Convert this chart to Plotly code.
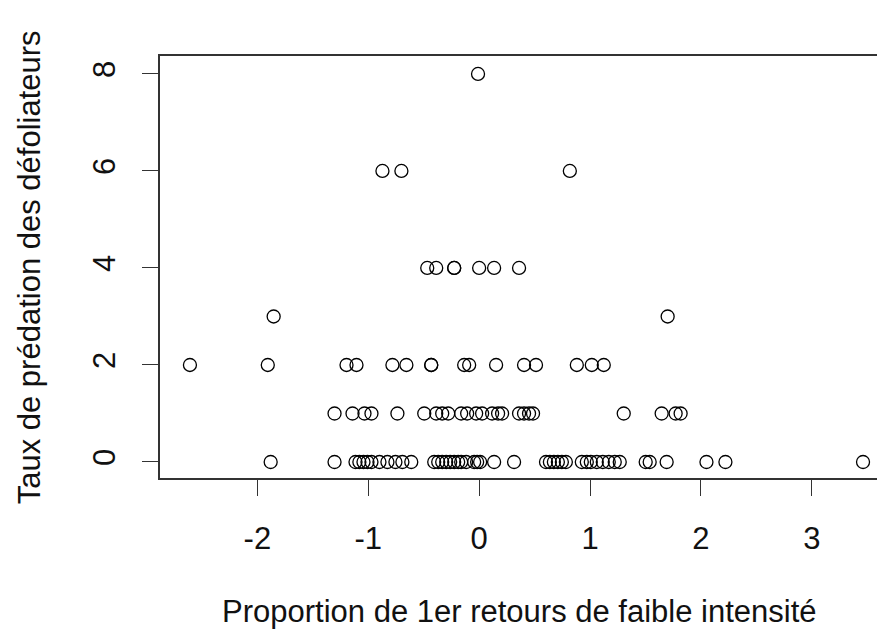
import plotly.graph_objects as go

# x values for each y level (Taux de prédation)
x_y0 = [-1.88, -1.304, -1.115, -1.08, -1.043, -1.007, -0.971, -0.899, -0.827, -0.755,
        -0.692, -0.612, -0.405, -0.369, -0.333, -0.297, -0.261, -0.225, -0.189, -0.162,
        -0.117, -0.045, -0.018, 0.009, 0.135, 0.315, 0.603, 0.638, 0.674, 0.710,
        0.746, 0.782, 0.926, 0.971, 1.007, 1.061, 1.115, 1.169, 1.223, 1.268,
        1.502, 1.538, 1.691, 2.050, 2.221, 3.462]
x_y1 = [-1.304, -1.142, -1.034, -0.971, -0.737, -0.495, -0.387, -0.333, -0.279, -0.162,
        -0.108, -0.027, 0.027, 0.117, 0.171, 0.207, 0.360, 0.405, 0.450, 0.486,
        1.304, 1.646, 1.772, 1.817]
x_y2 = [-2.608, -1.906, -1.196, -1.106, -0.782, -0.656, -0.432, -0.432, -0.135, -0.090,
        0.153, 0.405, 0.513, 0.881, 1.016, 1.124]
x_y3 = [-1.853, 1.700]
x_y4 = [-0.468, -0.387, -0.225, -0.225, 0.0, 0.135, 0.360]
x_y6 = [-0.872, -0.701, 0.818]
x_y8 = [-0.01]

levels = [(0, x_y0), (1, x_y1), (2, x_y2), (3, x_y3), (4, x_y4), (6, x_y6), (8, x_y8)]
xs, ys = [], []
for yv, xl in levels:
    xs += xl
    ys += [yv] * len(xl)

x_ticks = [-2, -1, 0, 1, 2, 3]
x_ticktext = ["-2", "-1", "0", "1", "2", "3"]
y_ticks = [0, 2, 4, 6, 8]
y_ticktext = ["0", "2", "4", "6", "8"]

x_title = "Proportion de 1er retours de faible intensité"
y_title = "Taux de prédation des défoliateurs"

fig = go.Figure()
fig.add_trace(go.Scatter(
    x=xs, y=ys, mode="markers",
    marker=dict(symbol="circle-open", size=13, color="black", line=dict(width=1.3, color="black")),
    showlegend=False, hoverinfo="x+y"))

font = dict(family="Liberation Sans, Arial, sans-serif", size=31, color="#111")
fig.update_layout(
    width=877, height=624,
    margin=dict(l=152, r=5, t=48, b=154),
    paper_bgcolor="white", plot_bgcolor="white",
    font=font,
    xaxis=dict(range=[-2.878, 3.597], tickvals=x_ticks, ticktext=x_ticktext,
               ticks="outside", ticklen=16, tickwidth=1.4, tickcolor="#333",
               showline=True, linecolor="#333", linewidth=1.6, mirror=True,
               showgrid=False, zeroline=False, ticklabelstandoff=16),
    yaxis=dict(range=[-0.33, 8.37], tickvals=y_ticks, ticktext=y_ticktext,
               ticks="outside", ticklen=16, tickwidth=1.4, tickcolor="#333",
               showline=True, linecolor="#333", linewidth=1.6, mirror=True,
               showgrid=False, zeroline=False, tickangle=-90, ticklabelstandoff=15),
    annotations=[
        dict(text=x_title, xref="paper", yref="paper", x=0.5, y=-0.3175,
             xanchor="center", yanchor="middle", showarrow=False, font=font),
        dict(text=y_title, xref="paper", yref="paper", x=-0.182, y=0.5,
             xanchor="center", yanchor="middle", textangle=-90, showarrow=False, font=font),
    ],
)
fig.write_html("out.html")
